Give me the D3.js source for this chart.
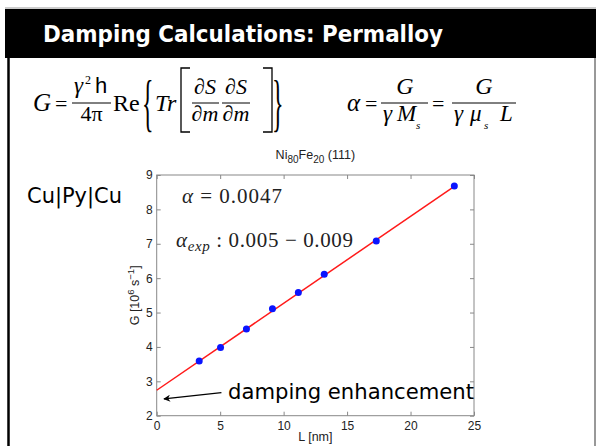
<!DOCTYPE html>
<html>
<head>
<meta charset="utf-8">
<script src="https://cdn.jsdelivr.net/npm/d3@7"></script>
<style>
  body { margin: 0; background: #fff; }
  svg { display: block; }
</style>
</head>
<body>
<div id="slide"></div>
<script>
'use strict'

// Data
const lengths = [3.35, 5.03, 7.07, 9.12, 11.16, 13.2, 17.3, 23.45]   // L [nm]
const damping = [3.59, 3.98, 4.52, 5.11, 5.58, 6.11, 7.08, 8.68]    // G [10^6 s^-1]
const fitL = [0, 23.45]
const fitG = [2.74, 8.67]
const xTicks = [0, 5, 10, 15, 20, 25]
const yTicks = [2, 3, 4, 5, 6, 7, 8, 9]
const arrowFrom = [5.1, 2.67]
const arrowTo = [0.57, 2.49]

const width = 596,
  height = 446

const comic = "'Comic Sans MS', 'DejaVu Sans', sans-serif"
const serif = "'Liberation Serif', 'Times New Roman', serif"
const sans = "'Liberation Sans', Arial, sans-serif"

let svg = d3.select('#slide')
  .append('svg')
  .attr('width', width)
  .attr('height', height)

svg.append('defs').append('marker')
  .attr('id', 'arrow')
  .attr('viewBox', '0 0 10 10')
  .attr('refX', 9).attr('refY', 5)
  .attr('markerWidth', 9).attr('markerHeight', 7)
  .attr('markerUnits', 'userSpaceOnUse')
  .attr('orient', 'auto')
  .append('path')
  .attr('d', 'M0,0 L10,5 L0,10 L3,5 Z')
  .attr('fill', '#000')

// slide frame + header
svg.append('line').attr('x1', 5).attr('x2', 596).attr('y1', 8).attr('y2', 8)
  .attr('stroke', '#999').attr('stroke-width', 1)
svg.append('rect').attr('x', 5).attr('y', 9).attr('width', 591).attr('height', 49).attr('fill', '#000')
svg.append('line').attr('x1', 8.5).attr('x2', 8.5).attr('y1', 58).attr('y2', 446)
  .attr('stroke', '#000').attr('stroke-width', 2.5)
svg.append('line').attr('x1', 595).attr('x2', 595).attr('y1', 58).attr('y2', 446)
  .attr('stroke', '#333').attr('stroke-width', 1)

svg.append('text')
  .attr('x', 43).attr('y', 42)
  .attr('fill', '#fff')
  .style('font-family', comic).style('font-weight', 'bold').style('font-size', '23px')
  .attr('textLength', 400).attr('lengthAdjust', 'spacingAndGlyphs')
  .text('Damping Calculations: Permalloy')

// ---- formulas ----
let f = svg.append('g').style('font-family', serif).attr('fill', '#000')

let txt = (x, y, s, size, opts) => {
  opts = opts || {}
  let t = f.append('text').attr('x', x).attr('y', y).style('font-size', size + 'px').text(s)
  if (opts.italic) t.style('font-style', 'italic')
  if (opts.anchor) t.attr('text-anchor', opts.anchor)
  if (opts.family) t.style('font-family', opts.family)
  return t
}
let bar = (x1, x2) => f.append('line').attr('x1', x1).attr('x2', x2).attr('y1', 103).attr('y2', 103)
  .attr('stroke', '#000').attr('stroke-width', 1)

txt(33, 111, 'G', 25, { italic: true })
txt(55, 111, '=', 22)
txt(74, 93, 'γ', 23, { italic: true })
txt(85, 84, '2', 12)
txt(95, 93, 'h', 22, { family: sans })
bar(72, 111)
txt(91.5, 121, '4π', 22, { anchor: 'middle' })
txt(113, 111, 'Re', 24)
txt(142, 0, '{', 24).attr('transform', 'translate(0,124) scale(1,2.6)')
txt(155, 111, 'Tr', 24, { italic: true })
f.append('path').attr('d', 'M190,68 L181,68 L181,132 L190,132').attr('fill', 'none').attr('stroke', '#000').attr('stroke-width', 1.3)
txt(205, 94, '∂S', 22, { anchor: 'middle', italic: true })
bar(192, 219)
txt(205, 121, '∂m', 22, { anchor: 'middle', italic: true })
txt(236, 94, '∂S', 22, { anchor: 'middle', italic: true })
bar(222, 250)
txt(236, 121, '∂m', 22, { anchor: 'middle', italic: true })
f.append('path').attr('d', 'M263,68 L272,68 L272,132 L263,132').attr('fill', 'none').attr('stroke', '#000').attr('stroke-width', 1.3)
txt(272, 0, '}', 24).attr('transform', 'translate(0,124) scale(1,2.6)')

txt(347, 111, 'α', 25, { italic: true })
txt(365, 111, '=', 22)
txt(405, 94, 'G', 24, { anchor: 'middle', italic: true })
bar(381, 428)
txt(383, 121, 'γ', 23, { italic: true })
txt(397, 121, 'M', 23, { italic: true })
txt(416, 129, 's', 11, { italic: true })
txt(432, 111, '=', 22)
txt(484, 94, 'G', 24, { anchor: 'middle', italic: true })
bar(452, 516)
txt(454, 121, 'γ', 23, { italic: true })
txt(470, 121, 'μ', 23, { italic: true })
txt(484, 129, 's', 11, { italic: true })
txt(500, 121, 'L', 23, { italic: true })

// ---- plot ----
const x = d3.scaleLinear().domain([0, 25]).range([156.7, 474])
const y = d3.scaleLinear().domain([2, 9]).range([415.7, 175])

let plot = svg.append('g')

// title
let title = plot.append('text')
  .attr('x', x(12.5)).attr('y', 159)
  .attr('text-anchor', 'middle')
  .style('font-family', sans).style('font-size', '12.5px').attr('fill', '#222')
title.append('tspan').text('Ni')
title.append('tspan').attr('dy', 4).style('font-size', '10px').text('80')
title.append('tspan').attr('dy', -4).text('Fe')
title.append('tspan').attr('dy', 4).style('font-size', '10px').text('20')
title.append('tspan').attr('dy', -4).text(' (111)')

const tickStyle = (g) => {
  g.select('.domain').remove()
  g.selectAll('.tick line').attr('stroke', '#888')
  g.selectAll('.tick text').attr('fill', '#222')
    .style('font-family', sans).style('font-size', '12px')
}

plot.append('g')
  .attr('transform', `translate(0,${y(2)})`)
  .call(d3.axisBottom(x).tickValues(xTicks).tickFormat(d3.format('d'))
    .tickSizeInner(-4).tickSizeOuter(0).tickPadding(6))
  .call(tickStyle)
plot.append('g')
  .attr('transform', `translate(0,${y(9)})`)
  .call(d3.axisTop(x).tickValues(xTicks).tickSizeInner(-4).tickSizeOuter(0).tickFormat(''))
  .call(tickStyle)
plot.append('g')
  .attr('transform', `translate(${x(0)},0)`)
  .call(d3.axisLeft(y).tickValues(yTicks).tickFormat(d3.format('d'))
    .tickSizeInner(-4).tickSizeOuter(0).tickPadding(4))
  .call(tickStyle)
plot.append('g')
  .attr('transform', `translate(${x(25)},0)`)
  .call(d3.axisRight(y).tickValues(yTicks).tickSizeInner(-4).tickSizeOuter(0).tickFormat(''))
  .call(tickStyle)

plot.append('rect')
  .attr('x', x(0)).attr('y', y(9))
  .attr('width', x(25) - x(0)).attr('height', y(2) - y(9))
  .attr('fill', 'none').attr('stroke', '#888').attr('stroke-width', 1)

// axis labels
plot.append('text')
  .attr('x', x(12.5)).attr('y', 441)
  .attr('text-anchor', 'middle')
  .style('font-family', sans).style('font-size', '12.5px').attr('fill', '#222')
  .text('L [nm]')

let ylab = plot.append('text')
  .attr('transform', `translate(139,${y(5.5)}) rotate(-90)`)
  .attr('text-anchor', 'middle')
  .style('font-family', sans).style('font-size', '12.5px').attr('fill', '#222')
ylab.append('tspan').text('G [10')
ylab.append('tspan').attr('dy', -5).style('font-size', '9.5px').text('6')
ylab.append('tspan').attr('dy', 5).text(' s')
ylab.append('tspan').attr('dy', -5).style('font-size', '9.5px').text('−1')
ylab.append('tspan').attr('dy', 5).text(']')

// fit line
plot.append('path')
  .datum(fitL.map((d, i) => [d, fitG[i]]))
  .attr('d', d3.line().x(d => x(d[0])).y(d => y(d[1])))
  .attr('fill', 'none').attr('stroke', '#ff1a1a').attr('stroke-width', 1.5)

// points
plot.selectAll('circle')
  .data(lengths)
  .enter()
  .append('circle')
  .attr('cx', d => x(d))
  .attr('cy', (d, i) => y(damping[i]))
  .attr('r', 3.5)
  .attr('fill', '#0a14ff')

// annotations inside the axes
let ann = plot.append('g').style('font-family', serif).attr('fill', '#222')
ann.append('text').attr('x', 182).attr('y', 203).style('font-size', '21px')
  .attr('textLength', 100).attr('lengthAdjust', 'spacing')
  .call(t => {
    t.append('tspan').style('font-style', 'italic').text('α')
    t.append('tspan').text(' = 0.0047')
  })
ann.append('text').attr('x', 176).attr('y', 247).style('font-size', '21px')
  .attr('textLength', 177).attr('lengthAdjust', 'spacing')
  .call(t => {
    t.append('tspan').style('font-style', 'italic').text('α')
    t.append('tspan').attr('dy', 4).style('font-style', 'italic').style('font-size', '15px').text('exp')
    t.append('tspan').attr('dy', -4).text(' : 0.005 − 0.009')
  })

plot.append('line')
  .attr('x1', x(arrowFrom[0])).attr('y1', y(arrowFrom[1]))
  .attr('x2', x(arrowTo[0])).attr('y2', y(arrowTo[1]))
  .attr('stroke', '#000').attr('stroke-width', 1.2)
  .attr('marker-end', 'url(#arrow)')

plot.append('text')
  .attr('x', 228).attr('y', 399)
  .style('font-family', comic).style('font-size', '22px').attr('fill', '#000')
  .attr('textLength', 246).attr('lengthAdjust', 'spacingAndGlyphs')
  .text('damping enhancement')

svg.append('text')
  .attr('x', 27).attr('y', 203)
  .style('font-family', comic).style('font-size', '21px').attr('fill', '#000')
  .attr('textLength', 95).attr('lengthAdjust', 'spacingAndGlyphs')
  .text('Cu|Py|Cu')
</script>
</body>
</html>
